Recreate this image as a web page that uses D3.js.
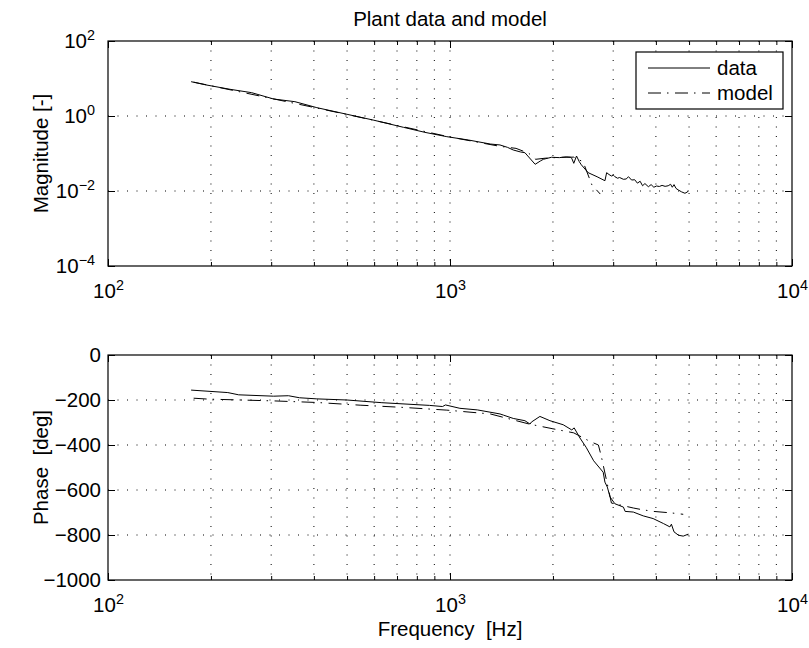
<!DOCTYPE html>
<html><head><meta charset="utf-8">
<script src="https://cdn.jsdelivr.net/npm/d3@7"></script>
<style>
body{margin:0;background:#fff}
svg{font-family:"Liberation Sans",Arial,Helvetica,sans-serif}
</style></head><body>
<svg id="c" width="809" height="648"></svg>
<script>
// ---------- data ----------
const titleText = "Plant data and model";
const xLabel = "Frequency  [Hz]";
const magLabel = "Magnitude [-]";
const phaseLabel = "Phase  [deg]";
const legendLabels = ["data", "model"];

const xMajorTicks = [100, 1000, 10000];
const xMajorExp = ["2", "3", "4"];
const xMinorTicks = [200,300,400,500,600,700,800,900,2000,3000,4000,5000,6000,7000,8000,9000];
const magTicks = [1e-4, 1e-2, 1, 100];
const magTickExp = ["\u22124", "\u22122", "0", "2"];
const phaseTicks = [-1000, -800, -600, -400, -200, 0];

// measured magnitude (data)
const dataMagFreq = [175,194,227.5,263,305,352,408,500,596,731,845,979,1132,1312,1400,1472,1531,1607,1656,1774,1837,1875,1982,2089,2188,2249,2270,2301,2344,2388,2421,2535,2692,2838,2871,2917,2965,3006,3034,3090,3133,3214,3273,3327,3396,3467,3532,3597,3656,3715,3802,3873,3945,4018,4093,4169,4256,4345,4416,4467,4519,4581,4656,4753,4864,4932,4977];
const dataMag = [8.22,6.71,5.15,4.19,2.84,2.41,1.67,1.11,0.78,0.499,0.366,0.281,0.229,0.179,0.169,0.146,0.124,0.110,0.105,0.0515,0.063,0.070,0.0794,0.0776,0.0813,0.0794,0.0745,0.0547,0.0857,0.0605,0.050,0.0308,0.024,0.0188,0.0308,0.0275,0.0251,0.0263,0.0241,0.0219,0.0229,0.0205,0.0209,0.024,0.0196,0.0200,0.0162,0.0182,0.0138,0.0158,0.0130,0.0148,0.0126,0.0136,0.0132,0.0141,0.0133,0.0138,0.0151,0.0126,0.0148,0.0117,0.0106,0.0095,0.0087,0.0093,0.0100];

// model magnitude
const modelMagFreq = [178,300,500,1000,1400,1560,1700,1780,1900,2100,2300,2450,2600,2750];
const modelMag = [8.0,2.95,1.10,0.275,0.155,0.137,0.101,0.07,0.075,0.079,0.080,0.060,0.0145,0.0083];

// measured phase (data)
const dataPhaseFreq = [175,224,241,305,337,363,408,500,632,871,951,970,1069,1202,1400,1432,1531,1656,1714,1730,1832,1960,2143,2270,2307,2399,2500,2630,2805,2838,2884,2938,3034,3214,3251,3436,3673,3926,4207,4395,4440,4519,4656,4808,4977];
const dataPhase = [-156,-167,-177,-183,-181,-190,-195,-200,-212,-224,-229,-222,-237,-244,-262,-267,-282,-292,-307,-298,-273,-292,-310,-333,-324,-369,-410,-470,-521,-565,-587,-631,-661,-676,-695,-698,-715,-727,-749,-764,-752,-786,-801,-805,-796];

// model phase
const modelPhaseFreq = [178,196,305,408,546,731,979,1312,1706,2000,2300,2565,2716,2773,2965,3436,3631,3926,4446,4808];
const modelPhase = [-192,-196,-204,-211,-223,-233,-245,-262,-307,-328,-346,-384,-400,-454,-658,-680,-687,-695,-702,-708];

// ---------- layout ----------
const svg = d3.select("#c");
const X0 = 108, X1 = 792;
const top1 = 41, bot1 = 266, top2 = 355, bot2 = 580;
const FS = 20.5;

const x = d3.scaleLog().domain([100, 10000]).range([X0, X1]);
const yMag = d3.scaleLog().domain([1e-4, 100]).range([bot1, top1]);
const yPh = d3.scaleLinear().domain([-1000, 0]).range([bot2, top2]);

function supLabel(sel, base, exps) {
  sel.each(function(d, i) {
    const t = d3.select(this);
    t.text(null);
    t.append("tspan").text(base);
    t.append("tspan").attr("dy", "-0.55em").attr("font-size", "0.7em").text(exps[i]);
  });
}

function panel(yScale, yTop, yBot, yTicks, isLog) {
  const g = svg.append("g");
  // grid
  const gridX = xMinorTicks.concat(xMajorTicks.slice(1, -1));
  g.selectAll(".gx").data(gridX).join("line")
    .attr("x1", d => x(d)).attr("x2", d => x(d))
    .attr("y1", yTop).attr("y2", yBot)
    .attr("stroke", "#000").attr("stroke-width", 1).attr("stroke-dasharray", "1,8.5");
  const gridY = yTicks.slice(1, -1);
  g.selectAll(".gy").data(gridY).join("line")
    .attr("x1", X0).attr("x2", X1)
    .attr("y1", d => yScale(d)).attr("y2", d => yScale(d))
    .attr("stroke", "#000").attr("stroke-width", 1).attr("stroke-dasharray", "1,8.5");

  // x axes (bottom with labels, top ticks only)
  const ab = g.append("g").attr("transform", `translate(0,${yBot})`)
    .call(d3.axisBottom(x).tickValues(xMajorTicks).tickSizeInner(-7).tickSizeOuter(0).tickPadding(17).tickFormat(d => d));
  ab.selectAll(".tick text").attr("font-size", FS).attr("font-family", "Liberation Sans, Arial, sans-serif").call(supLabel, "10", xMajorExp);
  g.append("g").attr("transform", `translate(0,${yBot})`)
    .call(d3.axisBottom(x).tickValues(xMinorTicks).tickSizeInner(-4).tickSizeOuter(0).tickFormat(""));
  g.append("g").attr("transform", `translate(0,${yTop})`)
    .call(d3.axisTop(x).tickValues(xMajorTicks).tickSizeInner(-7).tickSizeOuter(0).tickFormat(""));
  g.append("g").attr("transform", `translate(0,${yTop})`)
    .call(d3.axisTop(x).tickValues(xMinorTicks).tickSizeInner(-4).tickSizeOuter(0).tickFormat(""));

  // y axes
  const al = g.append("g").attr("transform", `translate(${X0},0)`)
    .call(d3.axisLeft(yScale).tickValues(yTicks).tickSizeInner(-7).tickSizeOuter(0).tickPadding(isLog ? 13 : 7)
      .tickFormat(d => isLog ? d : (d < 0 ? "\u2212" + Math.abs(d) : d)));
  al.selectAll(".tick text").attr("font-size", FS).attr("font-family", "Liberation Sans, Arial, sans-serif");
  if (isLog) al.selectAll(".tick text").call(supLabel, "10", magTickExp);
  g.append("g").attr("transform", `translate(${X1},0)`)
    .call(d3.axisRight(yScale).tickValues(yTicks).tickSizeInner(-7).tickSizeOuter(0).tickFormat(""));

  g.selectAll(".domain").remove();
  g.selectAll(".tick line").attr("stroke", "#000");
  // box
  g.append("rect").attr("x", X0).attr("y", yTop).attr("width", X1 - X0).attr("height", yBot - yTop)
    .attr("fill", "none").attr("stroke", "#000").attr("stroke-width", 1.2);
  return g;
}

const g1 = panel(yMag, top1, bot1, magTicks, true);
const g2 = panel(yPh, top2, bot2, phaseTicks, false);

const dashDot = "13,6,1.5,6.5";

// lines
const magLine = d3.line().x(d => x(d[0])).y(d => yMag(d[1]));
const phLine = d3.line().x(d => x(d[0])).y(d => yPh(d[1]));

g1.append("path").datum(modelMagFreq.map((f, i) => [f, modelMag[i]]))
  .attr("d", magLine).attr("fill", "none").attr("stroke", "#000").attr("stroke-width", 1).attr("stroke-dasharray", dashDot);
g1.append("path").datum(dataMagFreq.map((f, i) => [f, dataMag[i]]))
  .attr("d", magLine).attr("fill", "none").attr("stroke", "#000").attr("stroke-width", 1);

g2.append("path").datum(modelPhaseFreq.map((f, i) => [f, modelPhase[i]]))
  .attr("d", phLine).attr("fill", "none").attr("stroke", "#000").attr("stroke-width", 1).attr("stroke-dasharray", dashDot);
g2.append("path").datum(dataPhaseFreq.map((f, i) => [f, dataPhase[i]]))
  .attr("d", phLine).attr("fill", "none").attr("stroke", "#000").attr("stroke-width", 1);

// legend
const lg = svg.append("g");
lg.append("rect").attr("x", 636).attr("y", 52).attr("width", 147).attr("height", 57)
  .attr("fill", "#fff").attr("stroke", "#000").attr("stroke-width", 1.2);
const legY = [68, 93];
legendLabels.forEach((lab, i) => {
  lg.append("line").attr("x1", 648).attr("x2", 710).attr("y1", legY[i]).attr("y2", legY[i])
    .attr("stroke", "#000").attr("stroke-width", 1).attr("stroke-dasharray", i === 1 ? dashDot : null);
  lg.append("text").attr("x", 717).attr("y", legY[i]).attr("dy", "0.35em").attr("font-size", FS).text(lab);
});

// texts
svg.append("text").attr("x", 450).attr("y", 26).attr("text-anchor", "middle").attr("font-size", FS).text(titleText);
svg.append("text").attr("x", 450).attr("y", 636).attr("text-anchor", "middle").attr("font-size", FS)
  .style("white-space", "pre").text(xLabel);
svg.append("text").attr("transform", `translate(48,${(top1 + bot1) / 2}) rotate(-90)`).attr("text-anchor", "middle")
  .attr("font-size", FS).text(magLabel);
svg.append("text").attr("transform", `translate(48,${(top2 + bot2) / 2}) rotate(-90)`).attr("text-anchor", "middle")
  .attr("font-size", FS).style("white-space", "pre").text(phaseLabel);
</script>
</body></html>
